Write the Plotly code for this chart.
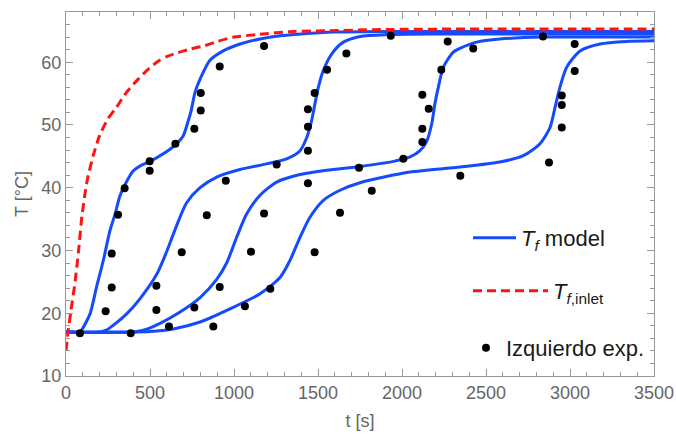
import plotly.graph_objects as go

# ---- data ----
t_inlet = [0, 10, 30, 55, 75, 95, 125, 165, 200, 250, 300, 360, 430, 490, 550, 600, 640, 740, 820, 900, 1000, 1140, 1350, 1550, 1870, 2500, 3500]
T_inlet = [14.0, 16.5, 20.5, 25.2, 30.0, 35.5, 41.0, 45.4, 48.3, 51.0, 52.8, 55.2, 57.3, 58.9, 60.2, 60.9, 61.3, 62.1, 62.6, 63.3, 64.0, 64.4, 64.9, 65.0, 65.2, 65.3, 65.3]

tA = [0, 80, 95, 143, 182, 222, 262, 292, 321, 361, 401, 450, 500, 579, 649, 698, 728, 745, 768, 798, 857, 936, 1036, 1155, 1274, 1400, 1600, 2000, 3500]
TA = [17.0, 17.0, 17.4, 19.9, 24.2, 28.4, 33.2, 35.8, 38.7, 41.0, 42.7, 43.6, 44.2, 45.4, 46.8, 48.3, 50.7, 52.3, 55.2, 57.3, 60.3, 61.8, 62.9, 63.7, 64.2, 64.5, 64.8, 64.9, 64.9]

tB = [0, 200, 240, 282, 361, 440, 540, 599, 659, 718, 798, 897, 1036, 1194, 1313, 1393, 1433, 1462, 1482, 1502, 1532, 1581, 1651, 1750, 1909, 2200, 3500]
TB = [17.0, 17.0, 17.3, 18.1, 19.9, 22.3, 26.2, 29.8, 34.0, 37.6, 40.0, 41.7, 42.9, 43.8, 44.6, 45.9, 48.0, 50.7, 53.4, 56.0, 58.7, 61.3, 63.2, 64.1, 64.4, 64.5, 64.5]

tC = [0, 400, 460, 560, 679, 798, 897, 956, 1016, 1075, 1155, 1254, 1393, 1552, 1750, 1950, 2048, 2107, 2147, 2177, 2196, 2216, 2246, 2305, 2345, 2444, 2583, 2841, 3500]
TC = [17.0, 17.0, 17.3, 18.4, 20.2, 22.5, 25.4, 28.0, 32.1, 35.8, 38.8, 40.9, 42.1, 42.8, 43.4, 44.2, 44.9, 45.9, 47.4, 50.2, 53.4, 56.0, 59.2, 61.6, 62.2, 63.2, 63.7, 64.0, 64.0]

tD = [0, 500, 639, 798, 976, 1155, 1274, 1333, 1393, 1452, 1532, 1631, 1750, 2048, 2345, 2583, 2722, 2821, 2881, 2911, 2940, 2980, 3060, 3179, 3337, 3500]
TD = [17.0, 17.1, 17.5, 18.6, 20.7, 23.1, 25.7, 28.4, 32.1, 35.3, 38.0, 39.6, 40.8, 42.5, 43.3, 44.1, 45.1, 47.0, 49.6, 52.8, 56.0, 59.2, 61.8, 62.9, 63.3, 63.4]

t_exp = [83, 236, 272, 272, 310, 349, 498, 498, 651, 764, 802, 802, 915, 1179,
         385, 538, 538, 689, 838, 951, 1254, 1440, 1440, 1440, 1480, 1554, 1669, 1933,
         613, 764, 915, 1101, 1179, 1440, 1744, 2008, 2121, 2121, 2159, 2121, 2234, 2272, 2424, 2839,
         877, 1065, 1216, 1480, 1631, 1820, 2347, 2875, 2951, 2951, 2951, 3028, 3028]
T_exp = [16.8, 20.3, 24.1, 29.5, 35.7, 39.9, 44.2, 42.7, 47.0, 49.4, 52.3, 55.1, 59.3, 62.6,
         16.8, 20.5, 24.4, 29.7, 35.6, 41.1, 43.7, 45.9, 49.7, 52.5, 55.1, 58.8, 61.4, 64.2,
         17.9, 20.9, 24.2, 29.8, 35.9, 40.7, 43.2, 44.6, 47.3, 49.4, 52.6, 54.8, 58.8, 63.3, 62.2, 64.1,
         17.9, 21.1, 23.9, 29.7, 36.0, 39.5, 41.9, 44.0, 49.6, 53.2, 54.7, 58.6, 62.9]

BLUE = "rgb(20,75,255)"
RED = "rgb(255,20,20)"
GRAY = "#999999"
TXT = "#666666"

fig = go.Figure()
model_sets = [(tA, TA), (tB, TB), (tC, TC), (tD, TD)]
for i, (tt, TT) in enumerate(model_sets):
    fig.add_trace(go.Scatter(
        x=tt, y=TT, mode="lines",
        line=dict(color=BLUE, width=3, shape="spline", smoothing=0.7),
        name="<i>T</i><sub><i>f</i></sub> model",
        showlegend=(i == 0), legend="legend", hoverinfo="skip"))

fig.add_trace(go.Scatter(
    x=t_inlet, y=T_inlet, mode="lines",
    line=dict(color=RED, width=3, dash="9px,5px", shape="spline", smoothing=0.7),
    name="<i>T</i><sub><i>f</i>,inlet</sub>", legend="legend2"))

fig.add_trace(go.Scatter(
    x=t_exp, y=T_exp, mode="markers",
    marker=dict(color="black", size=8),
    name="Izquierdo exp.", legend="legend3"))

L, R, T, B = 66, 22, 12, 60
W, H = 676, 436
pw, ph = W - L - R, H - T - B

def px(xp):
    return (xp - L) / pw

def py(yp):
    return (H - B - yp) / ph

legfont = dict(family="Liberation Sans, Arial, sans-serif", size=22, color="#1a1a1a")
common = dict(bgcolor="rgba(0,0,0,0)", borderwidth=0, font=legfont,
              xanchor="left", yanchor="middle")

fig.update_layout(
    width=W, height=H,
    margin=dict(l=L, r=R, t=T, b=B, autoexpand=False),
    paper_bgcolor="white", plot_bgcolor="white",
    font=dict(family="Liberation Sans, Arial, sans-serif", size=18, color=TXT),
    legend=dict(x=px(468), y=py(238), itemwidth=43, **common),
    legend2=dict(x=px(468), y=py(291), itemwidth=75, **common),
    legend3=dict(x=px(466), y=py(348), **common),
    xaxis=dict(range=[0, 3500], tick0=0, dtick=500, ticks="inside", ticklen=7,
               tickcolor=GRAY, tickwidth=1, automargin=False,
               minor=dict(dtick=100, ticks="inside", ticklen=4, tickcolor=GRAY),
               showline=True, linecolor=GRAY, linewidth=1, mirror="allticks",
               showgrid=False, zeroline=False,
               tickfont=dict(size=18, color=TXT),
               title=dict(text="t [s]", font=dict(size=18, color=TXT), standoff=12)),
    yaxis=dict(range=[10, 68], tick0=0, dtick=10, ticks="inside", ticklen=7,
               tickcolor=GRAY, tickwidth=1, automargin=False,
               minor=dict(dtick=2, ticks="inside", ticklen=4, tickcolor=GRAY),
               showline=True, linecolor=GRAY, linewidth=1, mirror="allticks",
               showgrid=False, zeroline=False,
               tickfont=dict(size=18, color=TXT),
               title=dict(text="T [°C]", font=dict(size=18, color=TXT), standoff=8)),
)

fig.write_html("out.html")
